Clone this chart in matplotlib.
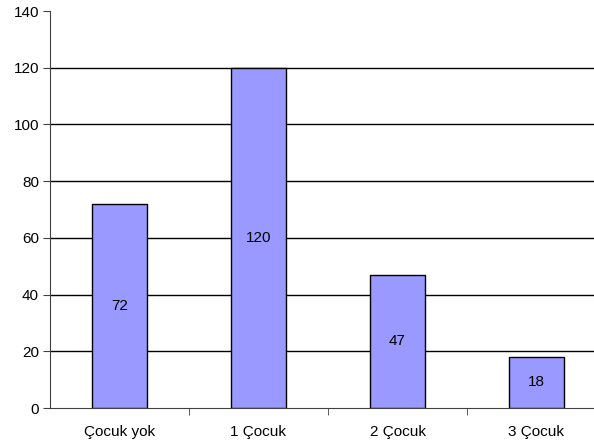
import matplotlib.pyplot as plt
import numpy as np

plt.rcParams['font.family'] = ['Liberation Sans', 'DejaVu Sans']

categories = ["Çocuk yok", "1 Çocuk", "2 Çocuk", "3 Çocuk"]
values = [72, 120, 47, 18]
yticks = [0, 20, 40, 60, 80, 100, 120, 140]

fig = plt.figure(figsize=(5.94, 4.48), dpi=100)
ax = fig.add_axes([50/594, 40/448, 556/594, 397/448])

x = np.arange(len(categories))
bars = ax.bar(x, values, width=0.39, color="#9999FF", edgecolor="black",
              linewidth=1, zorder=3)
for b, v in zip(bars, values):
    ax.text(b.get_x() + b.get_width()/2, v/2, str(v), ha="center", va="center",
            fontsize=11, zorder=4)

ax.set_xlim(-0.5, len(categories) - 0.5)
ax.set_ylim(0, 140)
ax.set_yticks(yticks)
# gridlines only between bottom and top (no line at 140 in the original)
ax.hlines(yticks[1:-1], -0.5, len(categories) - 0.5, color="black",
          linewidth=1, zorder=1)

ax.set_xticks(x)
ax.set_xticklabels(categories, fontsize=11)
ax.tick_params(axis="x", length=0, pad=12)
ax.set_xticks(np.arange(0.5, len(categories) - 0.5, 1), minor=True)
ax.tick_params(axis="x", which="minor", length=5, color="#404040")
ax.tick_params(axis="y", labelsize=11, length=5, color="#404040", pad=3)

for s in ["top", "right"]:
    ax.spines[s].set_visible(False)
ax.spines["left"].set_color("#404040")
ax.spines["bottom"].set_color("#404040")

fig.savefig("out.png", dpi=100)
